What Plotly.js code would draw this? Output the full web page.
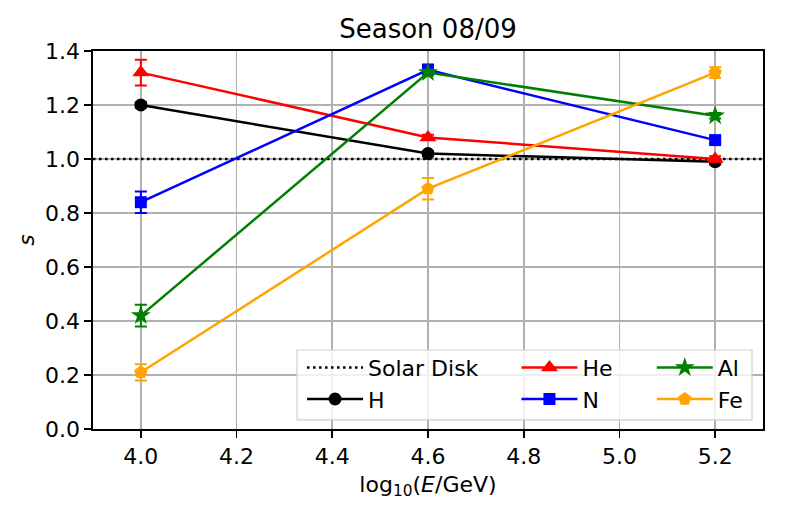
<!DOCTYPE html>
<html>
<head>
<meta charset="utf-8">
<script src="https://cdn.plot.ly/plotly-3.0.1.min.js"></script>
<style>
  html, body { margin: 0; padding: 0; background: #fff; }
  #plot { width: 789px; height: 526px; }
</style>
</head>
<body>
<div id="plot"></div>
<script>
// energy bins, log10(E/GeV)
const logE = [4.0, 4.6, 5.2];
const xRange = [3.9, 5.3];
const solarLevel = 1.0;

const hVals = [1.20, 1.02, 0.99];
const hErr = [0.01, 0.01, 0.01];
const heVals = [1.32, 1.08, 1.00];
const heErr = [0.048, 0.01, 0.01];
const nVals = [0.84, 1.33, 1.07];
const nErr = [0.04, 0.02, 0.01];
const alVals = [0.42, 1.32, 1.16];
const alErr = [0.04, 0.01, 0.01];
const feVals = [0.21, 0.89, 1.32];
const feErr = [0.03, 0.04, 0.02];

const yTicks = [0.0, 0.2, 0.4, 0.6, 0.8, 1.0, 1.2, 1.4];
const xTicks = [4.0, 4.2, 4.4, 4.6, 4.8, 5.0, 5.2];

const font = 'DejaVu Sans, sans-serif';

// plotly draws some symbols smaller than matplotlib does
const markerSize = {'circle': 13, 'triangle-up': 15, 'square': 12, 'star': 15, 'pentagon': 14};

function series(name, y, err, color, symbol, legend) {
	return {
		x: logE,
		y: y,
		name: name,
		legend: legend,
		legendgroup: name,
		type: 'scatter',
		mode: 'lines+markers',
		line: {color: color, width: 2.5},
		marker: {color: color, symbol: symbol, size: markerSize[symbol]},
		error_y: {type: 'data', array: err, visible: true, color: color, thickness: 2, width: 6}
	};
}

const traces = [
	{
		x: xRange,
		y: [solarLevel, solarLevel],
		name: 'Solar Disk',
		legend: 'legend',
		legendgroup: 'Solar Disk',
		type: 'scatter',
		mode: 'lines',
		line: {color: 'black', width: 2.5, dash: '2.5px,3.5px'}
	},
	series('H', hVals, hErr, 'black', 'circle', 'legend'),
	series('He', heVals, heErr, 'red', 'triangle-up', 'legend2'),
	series('N', nVals, nErr, 'blue', 'square', 'legend2'),
	series('Al', alVals, alErr, 'green', 'star', 'legend3'),
	series('Fe', feVals, feErr, 'orange', 'pentagon', 'legend3')
];

function legendAt(x) {
	return {
		x: x, y: 0.218, xanchor: 'left', yanchor: 'top',
		bgcolor: 'rgba(0,0,0,0)', borderwidth: 0,
		font: {family: font, size: 22, color: 'black'},
		traceorder: 'grouped', tracegroupgap: 0, itemwidth: 56
	};
}

const axisCommon = {
	showline: true, linecolor: 'black', linewidth: 1.6, mirror: true,
	showgrid: true, gridcolor: '#b0b0b0', gridwidth: 1.6,
	zeroline: false,
	ticks: 'outside', ticklen: 7, tickwidth: 1.6, tickcolor: 'black',
	tickfont: {family: font, size: 22, color: 'black'}
};

const layout = {
	width: 789,
	height: 526,
	margin: {l: 93, r: 26, t: 51, b: 97},
	paper_bgcolor: 'white',
	plot_bgcolor: 'white',
	title: {text: 'Season 08/09', font: {family: font, size: 26, color: 'black'}, x: 0.5, xref: 'paper', y: 0.945, yanchor: 'middle'},
	xaxis: Object.assign({}, axisCommon, {
		range: xRange,
		tickvals: xTicks,
		ticktext: xTicks.map(v => v.toFixed(1)),
		title: {text: 'log<sub>10</sub>(<i>E</i>/GeV)', font: {family: font, size: 22, color: 'black'}, standoff: 8}
	}),
	yaxis: Object.assign({}, axisCommon, {
		range: [0, 1.4],
		tickvals: yTicks,
		ticktext: yTicks.map(v => v.toFixed(1)),
		title: {text: '<i>s</i>', font: {family: font, size: 22, color: 'black'}, standoff: 4}
	}),
	showlegend: true,
	legend: legendAt(0.312),
	legend2: legendAt(0.632),
	legend3: legendAt(0.834),
	shapes: [{
		type: 'rect', xref: 'paper', yref: 'paper', layer: 'above',
		x0: 0.3045, x1: 0.9836, y0: 0.024, y1: 0.209,
		fillcolor: 'rgba(255,255,255,0.8)',
		line: {color: '#d0d0d0', width: 1.2}
	}]
};

Plotly.newPlot('plot', traces, layout, {displayModeBar: false, staticPlot: true});
</script>
</body>
</html>
